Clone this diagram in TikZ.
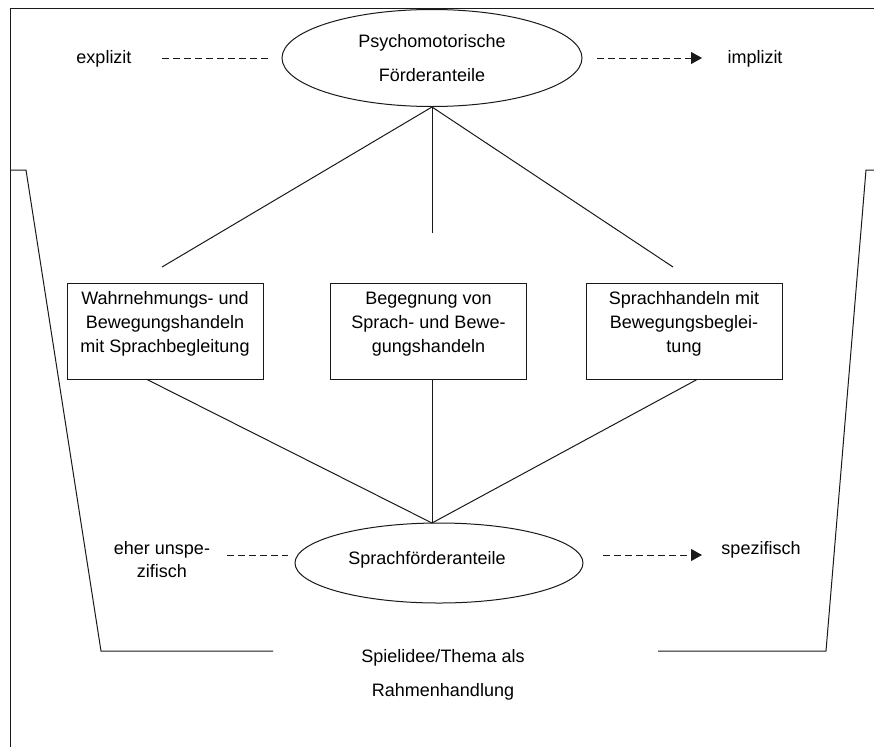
\documentclass[tikz,border=0pt]{standalone}
\usepackage{fontspec}
\setmainfont{Liberation Sans}
\usetikzlibrary{shapes.geometric,arrows.meta}
\begin{document}
\begin{tikzpicture}[x=1pt,y=-1pt,
  every node/.style={font=\fontsize{18}{24}\selectfont, text=black},
  ln/.style={line width=1pt, draw=black!90},
  oval/.style={ellipse, ln, draw, inner sep=0pt},
  box/.style={rectangle, ln, draw, minimum width=196pt, minimum height=96pt, inner sep=0pt},
  boxtext/.style={align=center, yshift=7pt, inner sep=0pt},
  dsh/.style={ln, dash pattern=on 6.5pt off 4.5pt},
  dsharr/.style={dsh, -{Triangle[length=11pt,width=12pt]}},
  twoline/.style={align=center, font=\fontsize{18}{34}\selectfont}
]
\useasboundingbox (0,0) rectangle (874,747);
% outer frame
\draw[ln] (874,8) -- (10,8) -- (10,747);
% bucket
\draw[ln] (10,170) -- (26,170) -- (101,651) -- (273,651);
\draw[ln] (658,651) -- (826,651) -- (866,170) -- (874,170);

% top ellipse
\node[oval, minimum width=300pt, minimum height=97pt, twoline] (psy) at (432,58) {Psychomotorische\\Förderanteile};
\node (expl) at (104,59) {explizit};
\node (impl) at (755,59) {implizit};
\coordinate (d1a) at (162,58); \coordinate (d1b) at (268,58);
\coordinate (d2a) at (597,58); \coordinate (d2b) at (702,58);
\draw[dsh] (d1a) -- (d1b);
\draw[dsharr] (d2a) -- (d2b);

% branches
\coordinate (e1) at (162,267);
\coordinate (e2) at (432,233);
\coordinate (e3) at (673,267);
\draw[ln] (psy.south) -- (e1);
\draw[ln] (psy.south) -- (e2);
\draw[ln] (psy.south) -- (e3);

% boxes
\node[box, label={[boxtext]center:{Wahrnehmungs- und\\Bewegungshandeln\\mit Sprachbegleitung}}] (b1) at (165,331) {};
\node[box, label={[boxtext]center:{Begegnung von\\Sprach- und Bewe-\\gungshandeln}}] (b2) at (428.5,331) {};
\node[box, label={[boxtext]center:{Sprachhandeln mit\\Bewegungsbeglei-\\tung}}] (b3) at (684,331) {};

% bottom ellipse
\node[oval, minimum width=288pt, minimum height=80pt] (spr) at (439,563) {};
\node (sprt) at (427,560) {Sprachförderanteile};
\coordinate (meet) at (432,523);
\draw[ln] ([xshift=-18pt]b1.south) -- (meet);
\draw[ln] ([xshift=3.5pt]b2.south) -- (meet);
\draw[ln] ([xshift=13pt]b3.south) -- (meet);

\node[align=center, font=\fontsize{18}{23}\selectfont] (unsp) at (162,560) {eher unspe-\\zifisch};
\node (spez) at (761,550) {spezifisch};
\coordinate (d3a) at (227,555); \coordinate (d3b) at (288,555);
\coordinate (d4a) at (603,555); \coordinate (d4b) at (702,555);
\draw[dsh] (d3a) -- (d3b);
\draw[dsharr] (d4a) -- (d4b);

% bottom label
\node[twoline] (rahmen) at (443,675) {Spielidee/Thema als\\Rahmenhandlung};
\end{tikzpicture}
\end{document}
